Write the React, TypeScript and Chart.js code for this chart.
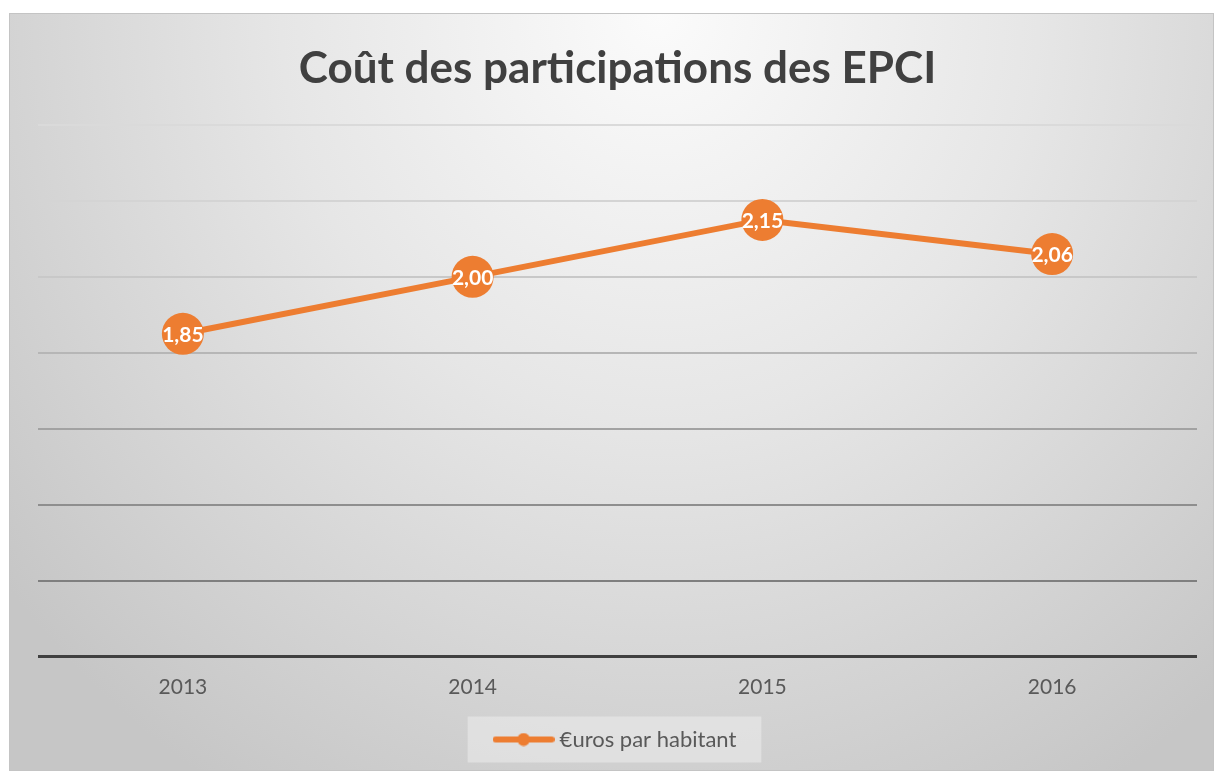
import { useEffect, useRef } from "react";
import { Chart, registerables } from "chart.js";

Chart.register(...registerables);

// ---- data ----
const categories = ["2013", "2014", "2015", "2016"];
const values = [1.85, 2.0, 2.15, 2.06];
const valueLabels = ["1,85", "2,00", "2,15", "2,06"];
const seriesName = "€uros par habitant";
const chartTitle = "Coût des participations des EPCI";
const yMin = 1.0;
const yMax = 2.4;
const yStep = 0.2;

// ---- styles ----
const ORANGE = "#ed7d31";
const FONT = "Lato";
// gridline colours from bottom (baseline) to top
const gridColors = ["#404040", "#7f7f7f", "#8e8e8e", "#a2a2a2", "#b6b6b6", "#c8c8c8", "#d4d4d4", "#dadada"];

function makeLegendSwatch(): HTMLCanvasElement {
  const c = document.createElement("canvas");
  c.width = 62;
  c.height = 14;
  const g = c.getContext("2d")!;
  g.strokeStyle = ORANGE;
  g.lineWidth = 6;
  g.lineCap = "round";
  g.beginPath();
  g.moveTo(3, 7);
  g.lineTo(59, 7);
  g.stroke();
  g.fillStyle = ORANGE;
  g.beginPath();
  g.arc(31, 7, 6.5, 0, Math.PI * 2);
  g.fill();
  return c;
}

const valueLabelPlugin = {
  id: "valueLabelPlugin",
  afterDatasetsDraw(chart: any) {
    const meta = chart.getDatasetMeta(0);
    const ctx = chart.ctx;
    ctx.save();
    ctx.font = `bold 21px ${FONT}`;
    ctx.fillStyle = "#ffffff";
    ctx.textAlign = "center";
    ctx.textBaseline = "middle";
    meta.data.forEach((pt: any, i: number) => {
      ctx.fillText(valueLabels[i], pt.x, pt.y + 1);
    });
    ctx.restore();
  },
};

const legendBoxPlugin = {
  id: "legendBoxPlugin",
  beforeDraw(chart: any) {
    const lg = chart.legend;
    if (!lg || !lg.legendHitBoxes || !lg.legendHitBoxes.length) return;
    const hb = lg.legendHitBoxes[0];
    const ctx = chart.ctx;
    const cy = hb.top + hb.height / 2;
    ctx.save();
    ctx.fillStyle = "rgba(236,236,236,0.55)";
    ctx.fillRect(hb.left - 31, cy - 23, hb.width + 31 + 25, 46);
    ctx.restore();
  },
};

export default function App() {
  const ref = useRef<HTMLCanvasElement | null>(null);

  useEffect(() => {
    if (!ref.current) return;
    const swatch = makeLegendSwatch();
    const chart = new Chart(ref.current, {
      type: "line",
      data: {
        labels: categories,
        datasets: [
          {
            label: seriesName,
            data: values,
            borderColor: ORANGE,
            backgroundColor: ORANGE,
            borderWidth: 6,
            pointRadius: 21,
            pointHoverRadius: 21,
            pointBackgroundColor: ORANGE,
            pointBorderWidth: 0,
            tension: 0,
            clip: false as any,
          },
        ],
      },
      options: {
        responsive: false,
        animation: false,
        layout: { autoPadding: false, padding: { left: 28, right: 16, top: 0, bottom: 9.5 } },
        plugins: {
          title: {
            display: true,
            text: chartTitle,
            color: "#404040",
            font: { family: FONT, size: 44, weight: "bold" },
            padding: { top: 28, bottom: 30.2 },
          },
          legend: {
            display: true,
            position: "bottom",
            labels: {
              usePointStyle: true,
              pointStyleWidth: 50,
              padding: 10,
              color: "#595959",
              font: { family: FONT, size: 22 },
              generateLabels: () => [
                {
                  text: seriesName,
                  pointStyle: swatch as any,
                  fillStyle: ORANGE,
                  strokeStyle: ORANGE,
                  lineWidth: 0,
                  hidden: false,
                  datasetIndex: 0,
                  fontColor: "#595959",
                } as any,
              ],
            },
          },
          tooltip: { enabled: false },
        },
        scales: {
          x: {
            type: "category",
            offset: true,
            grid: { display: false, drawTicks: false },
            border: { display: false },
            ticks: {
              color: "#595959",
              font: { family: FONT, size: 21 },
              padding: 18,
            },
            afterFit: (s: any) => {
              s.height = 62;
            },
          },
          y: {
            min: yMin,
            max: yMax,
            border: { display: false },
            grid: {
              drawTicks: false,
              color: (c: any) => gridColors[c.index] ?? "#d9d9d9",
              lineWidth: (c: any) => (c.index === 0 ? 3 : 2),
            },
            ticks: { display: false, stepSize: yStep },
            afterFit: (s: any) => {
              s.width = 0;
            },
          },
        },
      },
      plugins: [legendBoxPlugin, valueLabelPlugin],
    });
    return () => chart.destroy();
  }, []);

  return (
    <div style={{ position: "fixed", inset: 0, background: "#ffffff" }}>
      <div
        style={{
          position: "absolute",
          left: 9,
          top: 13,
          width: 1205,
          height: 758,
          boxSizing: "border-box",
          border: "1px solid #c4c4c4",
          background:
            "radial-gradient(ellipse 70% 120% at 54% 0%, #fbfbfb 0%, #e6e6e6 45%, #c6c6c6 100%)",
        }}
      >
        <canvas ref={ref} width={1203} height={756} style={{ display: "block" }} />
      </div>
    </div>
  );
}
